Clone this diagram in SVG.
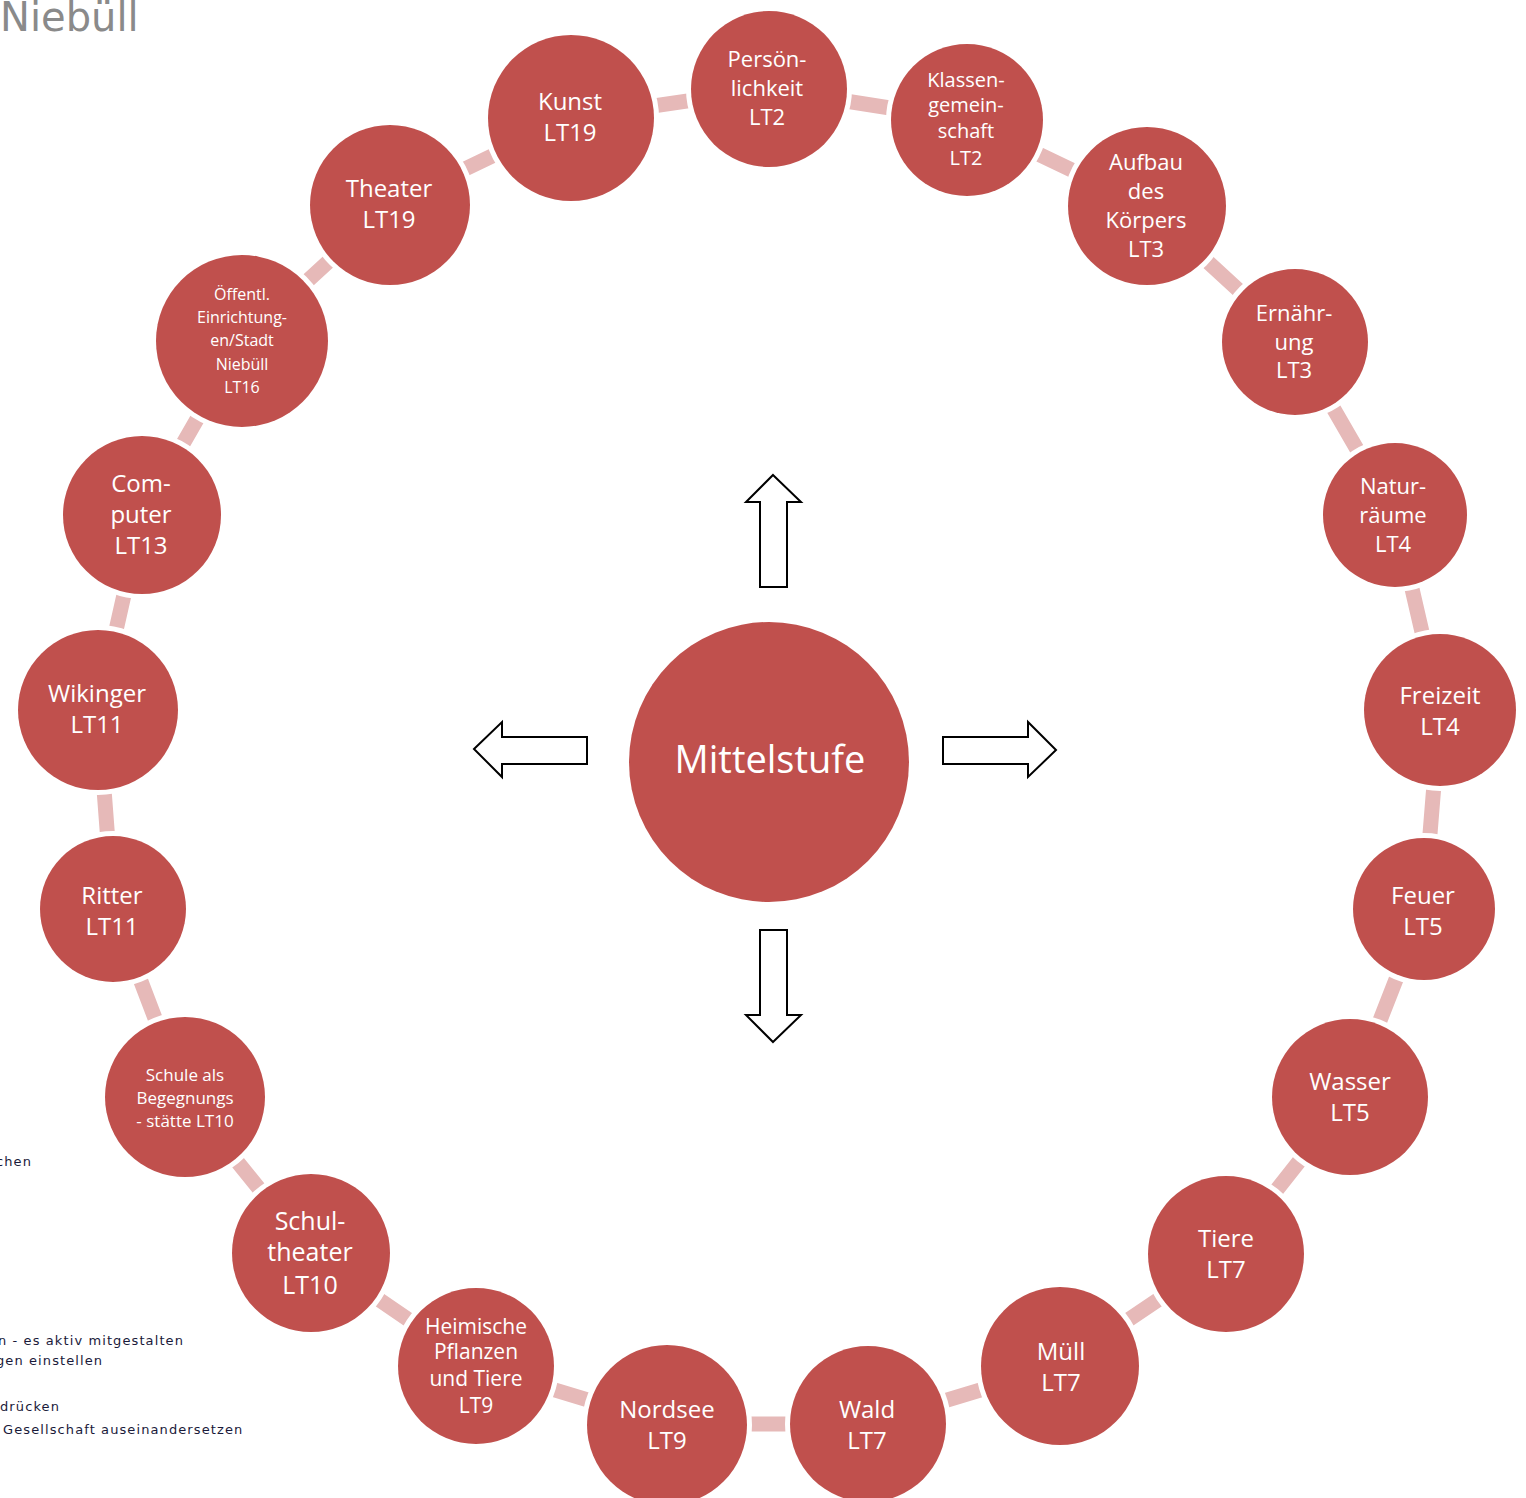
<svg xmlns="http://www.w3.org/2000/svg" width="1526" height="1498" viewBox="0 0 1526 1498">
<style>
.n{fill:#C0504D;stroke:#fff;stroke-width:10;paint-order:stroke}
.t{fill:#fff;font-family:"Open Sans","Liberation Sans",sans-serif;text-anchor:middle;dominant-baseline:central}
.c{stroke:#E6B9B8;stroke-width:15;fill:none}
.a{fill:#fff;stroke:#000;stroke-width:2;stroke-linejoin:miter}
.s{font-family:"DejaVu Sans",sans-serif;font-size:13px;letter-spacing:1.1px;fill:#1a1a3a}
</style>
<rect width="1526" height="1498" fill="#fff"/>
<text x="0" y="31" font-family="'DejaVu Sans',sans-serif" font-size="40" fill="#8a8a8a">Niebüll</text>
<g id="fragments">
<text class="s" x="-4" y="1166">chen</text>
<text class="s" x="-2" y="1345">n - es aktiv mitgestalten</text>
<text class="s" x="-4" y="1365">gen einstellen</text>
<text class="s" x="0" y="1411">drücken</text>
<text class="s" x="3" y="1434">Gesellschaft auseinandersetzen</text>
</g>
<g id="connectors">
<polyline class="c" points="769,89 967,120 1147,206 1295,342 1395,515 1440,710 1424,908 1350,1097 1226,1254 1060,1366 868,1424 667,1424 476,1366 311,1253 185,1097 113,908 98,710 142,515 242,341 390,205 571,118 769,89"/>
</g>
<g id="arrows">
<polygon class="a" points="773,475 801,502 787,502 787,587 760,587 760,502 746,502"/>
<polygon class="a" points="474,749 502,722 502,737 587,737 587,764 502,764 502,777"/>
<polygon class="a" points="1056,750 1028,722 1028,737 943,737 943,764 1028,764 1028,777"/>
<polygon class="a" points="773,1042 801,1015 787,1015 787,930 760,930 760,1015 746,1015"/>
</g>
<g id="center"><circle class="n" cx="769" cy="762" r="140"/><text class="t" x="770" y="758" font-size="38">Mittelstufe</text></g>
<g id="n1"><circle class="n" cx="769" cy="89" r="78"/><text class="t" font-size="22" x="767"><tspan x="767" y="58">Persön-</tspan><tspan x="767" y="87">lichkeit</tspan><tspan x="767" y="116">LT2</tspan></text></g>
<g id="n2"><circle class="n" cx="967" cy="120" r="76"/><text class="t" font-size="20"><tspan x="966" y="79">Klassen-</tspan><tspan x="966" y="104">gemein-</tspan><tspan x="966" y="130">schaft</tspan><tspan x="966" y="157">LT2</tspan></text></g>
<g id="n3"><circle class="n" cx="1147" cy="206" r="79"/><text class="t" font-size="22"><tspan x="1146" y="161">Aufbau</tspan><tspan x="1146" y="190">des</tspan><tspan x="1146" y="219">Körpers</tspan><tspan x="1146" y="248">LT3</tspan></text></g>
<g id="n4"><circle class="n" cx="1295" cy="342" r="73"/><text class="t" font-size="22"><tspan x="1294" y="312">Ernähr-</tspan><tspan x="1294" y="341">ung</tspan><tspan x="1294" y="369">LT3</tspan></text></g>
<g id="n5"><circle class="n" cx="1395" cy="515" r="72"/><text class="t" font-size="22"><tspan x="1393" y="485">Natur-</tspan><tspan x="1393" y="514">räume</tspan><tspan x="1393" y="543">LT4</tspan></text></g>
<g id="n6"><circle class="n" cx="1440" cy="710" r="76"/><text class="t" font-size="24"><tspan x="1440" y="694">Freizeit</tspan><tspan x="1440" y="725">LT4</tspan></text></g>
<g id="n7"><circle class="n" cx="1424" cy="909" r="71"/><text class="t" font-size="24"><tspan x="1423" y="894">Feuer</tspan><tspan x="1423" y="925">LT5</tspan></text></g>
<g id="n8"><circle class="n" cx="1350" cy="1097" r="78"/><text class="t" font-size="24"><tspan x="1350" y="1080">Wasser</tspan><tspan x="1350" y="1111">LT5</tspan></text></g>
<g id="n9"><circle class="n" cx="1226" cy="1254" r="78"/><text class="t" font-size="24"><tspan x="1226" y="1237">Tiere</tspan><tspan x="1226" y="1268">LT7</tspan></text></g>
<g id="n10"><circle class="n" cx="1060" cy="1366" r="79"/><text class="t" font-size="24"><tspan x="1061" y="1350">Müll</tspan><tspan x="1061" y="1381">LT7</tspan></text></g>
<g id="n11"><circle class="n" cx="868" cy="1424" r="78"/><text class="t" font-size="24"><tspan x="867" y="1408">Wald</tspan><tspan x="867" y="1439">LT7</tspan></text></g>
<g id="n12"><circle class="n" cx="667" cy="1425" r="80"/><text class="t" font-size="24"><tspan x="667" y="1408">Nordsee</tspan><tspan x="667" y="1439">LT9</tspan></text></g>
<g id="n13"><circle class="n" cx="476" cy="1366" r="78"/><text class="t" font-size="21"><tspan x="476" y="1326">Heimische</tspan><tspan x="476" y="1351">Pflanzen</tspan><tspan x="476" y="1378">und Tiere</tspan><tspan x="476" y="1405">LT9</tspan></text></g>
<g id="n14"><circle class="n" cx="311" cy="1253" r="79"/><text class="t" font-size="25"><tspan x="310" y="1220">Schul-</tspan><tspan x="310" y="1251">theater</tspan><tspan x="310" y="1284">LT10</tspan></text></g>
<g id="n15"><circle class="n" cx="185" cy="1097" r="80"/><text class="t" font-size="17"><tspan x="185" y="1074">Schule als</tspan><tspan x="185" y="1097">Begegnungs</tspan><tspan x="185" y="1120">- stätte LT10</tspan></text></g>
<g id="n16"><circle class="n" cx="113" cy="909" r="73"/><text class="t" font-size="24"><tspan x="112" y="894">Ritter</tspan><tspan x="112" y="925">LT11</tspan></text></g>
<g id="n17"><circle class="n" cx="98" cy="710" r="80"/><text class="t" font-size="24"><tspan x="97" y="692">Wikinger</tspan><tspan x="97" y="723">LT11</tspan></text></g>
<g id="n18"><circle class="n" cx="142" cy="515" r="79"/><text class="t" font-size="24"><tspan x="141" y="482">Com-</tspan><tspan x="141" y="513">puter</tspan><tspan x="141" y="544">LT13</tspan></text></g>
<g id="n19"><circle class="n" cx="242" cy="341" r="86"/><text class="t" font-size="16"><tspan x="242" y="294">Öffentl.</tspan><tspan x="242" y="317">Einrichtung-</tspan><tspan x="242" y="340">en/Stadt</tspan><tspan x="242" y="364">Niebüll</tspan><tspan x="242" y="387">LT16</tspan></text></g>
<g id="n20"><circle class="n" cx="390" cy="205" r="80"/><text class="t" font-size="24"><tspan x="389" y="187">Theater</tspan><tspan x="389" y="218">LT19</tspan></text></g>
<g id="n21"><circle class="n" cx="571" cy="118" r="83"/><text class="t" font-size="24"><tspan x="570" y="100">Kunst</tspan><tspan x="570" y="131">LT19</tspan></text></g>
</svg>
